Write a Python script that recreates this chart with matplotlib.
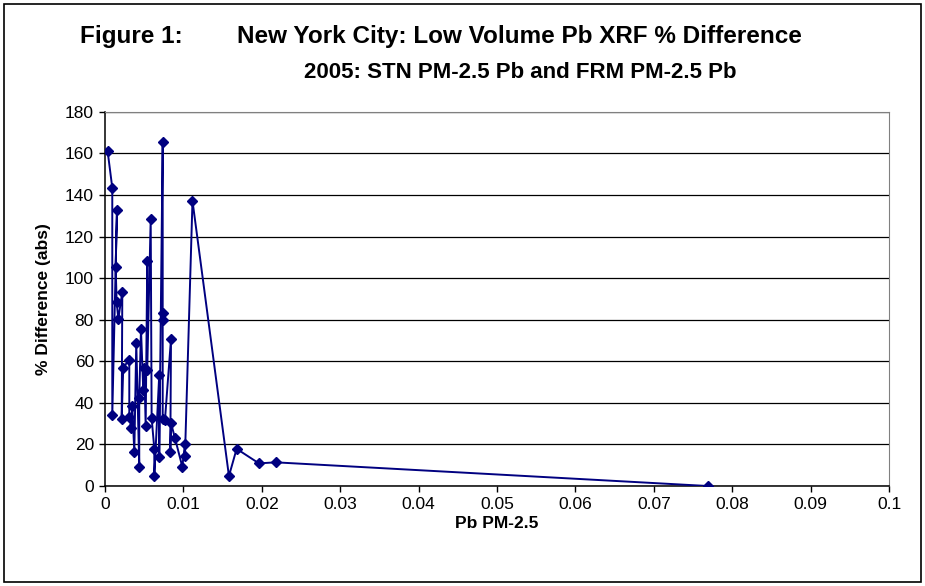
import numpy as np
import matplotlib
matplotlib.use("Agg")
import matplotlib.pyplot as plt
from matplotlib.patches import Rectangle

plt.rcParams['font.family'] = ['Liberation Sans', 'DejaVu Sans']

# Pb concentration vs. absolute % difference, in sample order
pb = [0.00034, 0.00093, 0.00093, 0.00153, 0.00136, 0.00149, 0.00170, 0.00221, 0.00213,
      0.00233, 0.00310, 0.00310, 0.00332, 0.00348, 0.00374, 0.00399, 0.00437, 0.00437,
      0.00459, 0.00488, 0.00501, 0.00519, 0.00539, 0.00539, 0.00583, 0.00595, 0.00629,
      0.00629, 0.00692, 0.00692, 0.00736, 0.00736, 0.00736, 0.00736, 0.00765, 0.00842,
      0.00833, 0.00842, 0.00893, 0.00986, 0.01020, 0.01020, 0.01116, 0.01581, 0.01679,
      0.01964, 0.02177, 0.07692]
pct_diff = [161.0, 143.5, 34.0, 133.0, 105.4, 88.5, 80.4, 93.5, 32.3,
            57.0, 60.8, 33.4, 28.0, 38.3, 16.3, 69.0, 9.3, 42.3,
            75.6, 46.3, 56.8, 29.0, 108.3, 56.0, 128.4, 32.7, 17.9,
            4.8, 53.6, 14.1, 165.4, 83.3, 79.8, 32.2, 31.9, 70.8,
            16.3, 30.3, 23.0, 9.3, 20.1, 14.5, 137.2, 4.8, 17.9,
            10.9, 11.4, 0.0]

fig = plt.figure(figsize=(9.25, 5.86), dpi=100)
ax = fig.add_axes([0.1135, 0.1706, 0.8476, 0.6384])

ax.plot(pb, pct_diff, color='#000080', lw=1.4, marker='D', markersize=5.5,
        markerfacecolor='#000080', markeredgecolor='#000080', zorder=3)

ax.set_xlim(0, 0.1)
ax.set_ylim(0, 180)
ax.set_xticks(np.arange(0, 0.1001, 0.01))
ax.set_xticklabels(['0', '0.01', '0.02', '0.03', '0.04', '0.05', '0.06', '0.07', '0.08', '0.09', '0.1'])
ax.set_yticks(np.arange(0, 181, 20))
ax.yaxis.grid(True, color='black', lw=0.9)
ax.set_axisbelow(True)
ax.tick_params(direction='out', length=4, width=1, labelsize=12.5, colors='black', pad=4)

for side in ['top', 'right']:
    ax.spines[side].set_color('#808080')
for side in ['left', 'bottom']:
    ax.spines[side].set_color('black')
    ax.spines[side].set_linewidth(1.1)

ax.set_xlabel('Pb PM-2.5', fontsize=12.5, fontweight='bold', labelpad=3)
ax.set_ylabel('% Difference (abs)', fontsize=12.5, fontweight='bold', labelpad=10)

# chart titles
fig.text(80 / 925, 1 - 37 / 586, 'Figure 1:', fontsize=17.5, fontweight='bold', va='center', ha='left')
fig.text(237 / 925, 1 - 37 / 586, 'New York City: Low Volume Pb XRF % Difference',
         fontsize=17.5, fontweight='bold', va='center', ha='left')
fig.text(520 / 925, 1 - 72 / 586, '2005: STN PM-2.5 Pb and FRM PM-2.5 Pb',
         fontsize=16, fontweight='bold', va='center', ha='center')

# outer chart border
fig.patches.append(Rectangle((4 / 925, 4 / 586), 917 / 925, 578 / 586, transform=fig.transFigure,
                             fill=False, edgecolor='black', lw=1.2))

fig.savefig('out.png', dpi=100)
